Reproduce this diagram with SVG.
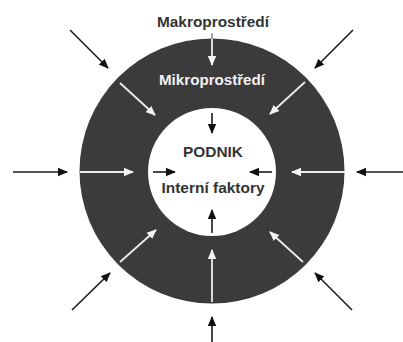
<svg xmlns="http://www.w3.org/2000/svg" width="403" height="342" viewBox="0 0 403 342">
  <style>
    .lbl { font-family: "Liberation Sans", Arial, sans-serif; font-weight: bold; text-anchor: middle; }
    .dark { fill: #333333; }
    .light { fill: #f2f2f2; }
    .ext { stroke: #1a1a1a; stroke-width: 1.6; fill: none; marker-end: url(#headDark); }
    .ring { stroke: #eeeeee; stroke-width: 1.8; fill: none; marker-end: url(#headLight); }
    .core { stroke: #1a1a1a; stroke-width: 1.6; fill: none; marker-end: url(#headDark); }
  </style>
  <defs>
    <marker id="headDark" markerUnits="userSpaceOnUse" markerWidth="10" markerHeight="10" viewBox="0 0 10 10" refX="9" refY="5" orient="auto">
      <path d="M0,0.8 L10,5 L0,9.2 Z" fill="#111111"/>
    </marker>
    <marker id="headLight" markerUnits="userSpaceOnUse" markerWidth="10" markerHeight="10" viewBox="0 0 10 10" refX="9" refY="5" orient="auto">
      <path d="M0,0.8 L10,5 L0,9.2 Z" fill="#f4f4f4"/>
    </marker>
  </defs>

  <rect width="403" height="342" fill="#ffffff"/>

  <!-- environment ring and company core -->
  <g id="mikroprostredi">
    <circle cx="212" cy="171" r="132.5" fill="#3b3b3b"/>
    <text class="lbl light" x="212" y="85" font-size="14" textLength="106" lengthAdjust="spacingAndGlyphs">Mikroprostředí</text>
  </g>
  <g id="podnik">
    <circle cx="212" cy="172" r="64" fill="#ffffff"/>
    <text class="lbl dark" x="213" y="157" font-size="15" textLength="60" lengthAdjust="spacingAndGlyphs">PODNIK</text>
    <text class="lbl dark" x="213" y="193" font-size="14.5" textLength="103" lengthAdjust="spacingAndGlyphs">Interní faktory</text>
  </g>
  <g id="makroprostredi">
    <text class="lbl dark" x="213" y="27" font-size="14" textLength="112" lengthAdjust="spacingAndGlyphs">Makroprostředí</text>
  </g>

  <g id="connectors">
    <!-- outer influences -->
    <line class="ext" x1="70" y1="30" x2="108" y2="68"/>
    <line class="ext" x1="353" y1="30" x2="315" y2="68"/>
    <line class="ext" x1="13" y1="172" x2="67" y2="172"/>
    <line class="ext" x1="403" y1="172" x2="357" y2="172"/>
    <line class="ext" x1="72" y1="310" x2="110" y2="273"/>
    <line class="ext" x1="352" y1="310" x2="315" y2="273"/>
    <line class="ext" x1="212" y1="342" x2="212" y2="317"/>
    <line x1="212" y1="33" x2="212" y2="39" stroke="#999999" stroke-width="1.8"/>

    <!-- through the ring -->
    <line class="ring" x1="212" y1="39" x2="212" y2="65"/>
    <line class="ring" x1="120" y1="83" x2="155" y2="115"/>
    <line class="ring" x1="305" y1="82" x2="270" y2="114"/>
    <line class="ring" x1="80" y1="172" x2="133" y2="172"/>
    <line class="ring" x1="345" y1="172" x2="292" y2="172"/>
    <line class="ring" x1="120" y1="262" x2="156" y2="230"/>
    <line class="ring" x1="303" y1="262" x2="270" y2="232"/>
    <line class="ring" x1="212" y1="302" x2="212" y2="250"/>

    <!-- inside the company -->
    <line class="core" x1="212" y1="113" x2="212" y2="133"/>
    <line class="core" x1="153" y1="172" x2="175" y2="172"/>
    <line class="core" x1="272" y1="172" x2="250" y2="172"/>
    <line class="core" x1="212" y1="233" x2="212" y2="210"/>
  </g>
</svg>
